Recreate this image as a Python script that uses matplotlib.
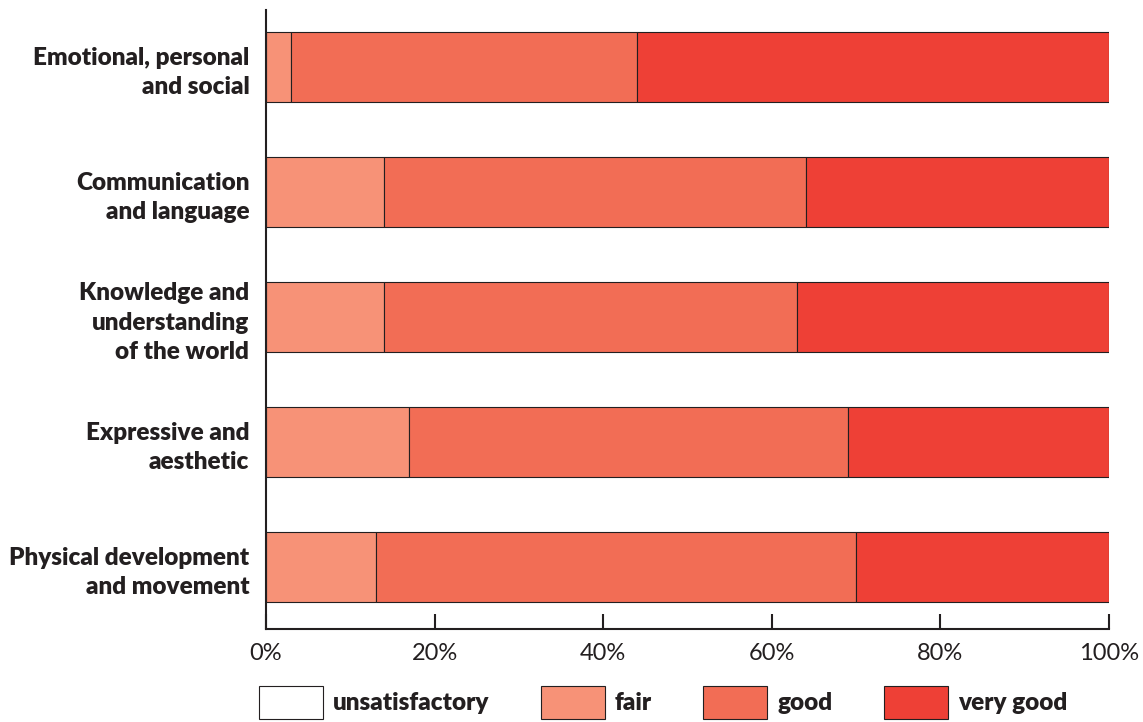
import matplotlib.pyplot as plt
import numpy as np

# Data (percent of settings), top to bottom
categories = [
    "Emotional, personal\nand social",
    "Communication\nand language",
    "Knowledge and\nunderstanding\nof the world",
    "Expressive and\naesthetic",
    "Physical development\nand movement",
]
unsatisfactory = [0, 0, 0, 0, 0]
fair = [3, 14, 14, 17, 13]
good = [41, 50, 49, 52, 57]
very_good = [56, 36, 37, 31, 30]

series = ["unsatisfactory", "fair", "good", "very good"]
colours = ["#FFFFFF", "#F79277", "#F26D55", "#EE4036"]
edge = "#231F20"

plt.rcParams["font.family"] = ["Lato", "DejaVu Sans"]

fig = plt.figure(figsize=(11.43, 7.22), dpi=100)
ax = fig.add_axes([266 / 1143, 1 - 629 / 722, (1109 - 266) / 1143, (629 - 10) / 722])

y = np.arange(len(categories))
left = np.zeros(len(categories))
for name, vals, col in zip(series, [unsatisfactory, fair, good, very_good], colours):
    vals = np.array(vals, dtype=float)
    ax.barh(y, vals, left=left, height=0.56, color=col, edgecolor=edge,
            linewidth=0.8, label=name)
    left += vals

ax.set_xlim(0, 100)
ax.set_ylim(len(categories) - 1 + 0.496, -0.456)
ax.set_yticks(y)
ax.set_yticklabels(categories, fontsize=17.5, fontweight="heavy", color=edge,
                   linespacing=1.4)
ax.set_xticks(np.arange(0, 101, 20))
ax.set_xticklabels(["%d%%" % v for v in range(0, 101, 20)], fontsize=17, color=edge)
ax.tick_params(axis="y", length=0, pad=12)
ax.tick_params(axis="x", direction="in", length=11, width=1.5, color=edge, pad=10)

for s in ["top", "right"]:
    ax.spines[s].set_visible(False)
for s in ["left", "bottom"]:
    ax.spines[s].set_linewidth(1.5)
    ax.spines[s].set_color(edge)

leg = fig.legend(loc="upper left", bbox_to_anchor=(259 / 1143, 1 - 686 / 722),
                 ncol=4, frameon=False, borderpad=0, borderaxespad=0,
                 handlelength=2.63, handleheight=1.7, handletextpad=0.41,
                 columnspacing=2.12, prop={"size": 17.5, "weight": "heavy"})
for t in leg.get_texts():
    t.set_color(edge)

fig.savefig("out.png", dpi=100)
